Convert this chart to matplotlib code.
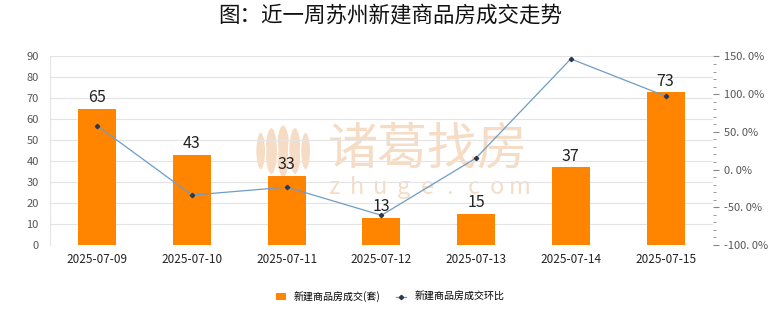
import matplotlib.pyplot as plt
import numpy as np
from matplotlib.patches import Ellipse
from matplotlib.ticker import MultipleLocator, FuncFormatter

plt.rcParams['font.family'] = ['Noto Sans CJK SC', 'DejaVu Sans']

dates = ["2025-07-09", "2025-07-10", "2025-07-11", "2025-07-12",
         "2025-07-13", "2025-07-14", "2025-07-15"]
deals = [65, 43, 33, 13, 15, 37, 73]
mom_pct = [58.0, -33.8, -23.3, -60.6, 15.4, 146.7, 97.3]

BAR = "#FF8400"
LINE = "#6F9CC6"
WM = "#F6DCC4"

fig = plt.figure(figsize=(7.8, 3.28), dpi=100)

# watermark sits behind the axes
fig.text(0.548, 0.543, "诸葛找房", ha="center", va="center", fontsize=36,
         color=WM, fontweight="light", zorder=0)
for i, ch in enumerate("zhuge.com"):
    fig.text(0.428 + i * 0.0298, 0.427, ch, ha="center", va="center",
             fontsize=17, color=WM, fontweight="light", zorder=0)
logo = fig.add_axes([0.327, 0.457, 0.072, 0.165], zorder=0)
logo.set_xlim(-1, 1)
logo.set_ylim(0, 2)
logo.axis("off")
for dx, w, h in [(0, 0.5, 1.95), (-0.42, 0.45, 1.75), (0.42, 0.45, 1.75),
                 (-0.8, 0.36, 1.4), (0.8, 0.36, 1.4)]:
    logo.add_patch(Ellipse((dx, 1.0), w, h, facecolor=WM, edgecolor="white", lw=1.0))

ax = fig.add_axes([0.064, 0.253, 0.85, 0.575], zorder=1)
ax.patch.set_visible(False)
ax2 = ax.twinx()

x = np.arange(len(dates))
ax.bar(x, deals, width=0.4, color=BAR, zorder=2, label="新建商品房成交(套)")
for xi, v in zip(x, deals):
    ax.text(xi, v + 1.2, str(v), ha="center", va="bottom", fontsize=11.5, color="#222222")

ax2.plot(x, mom_pct, color=LINE, lw=0.9, marker="D", markersize=2.2,
         markerfacecolor="#2b3a4a", markeredgecolor="#2b3a4a", zorder=3,
         label="新建商品房成交环比")

ax.set_xlim(-0.5, len(dates) - 0.5)
ax.set_ylim(0, 90)
ax.yaxis.set_major_locator(MultipleLocator(10))
ax.grid(axis="y", color="#e4e4e4", lw=0.8, zorder=0)
ax.set_axisbelow(True)
ax.set_xticks(x)
ax.set_xticklabels(dates, fontsize=8.5, color="#222222")
ax.tick_params(axis="x", length=0, pad=6)
ax.tick_params(axis="y", length=0, labelsize=8, labelcolor="#555555", pad=8)

ax2.set_ylim(-100, 150)
ax2.yaxis.set_major_locator(MultipleLocator(50))
ax2.yaxis.set_minor_locator(MultipleLocator(10))
ax2.yaxis.set_major_formatter(FuncFormatter(lambda v, _: f"{v:.1f}%".replace(".", ". ")))
ax2.tick_params(axis="y", which="major", length=4, color="#888888",
                labelsize=8, labelcolor="#555555", pad=4)
ax2.tick_params(axis="y", which="minor", length=2.5, color="#888888")

for a in (ax, ax2):
    for side in ("top", "right", "bottom"):
        a.spines[side].set_visible(False)
    a.spines["left"].set_color("#e4e4e4")
ax2.spines["left"].set_visible(False)

fig.suptitle("图：近一周苏州新建商品房成交走势", y=0.985, fontsize=15.5,
             fontweight="medium", color="#111111")

h1, l1 = ax.get_legend_handles_labels()
h2, l2 = ax2.get_legend_handles_labels()
fig.legend(h1 + h2, l1 + l2, loc="center", bbox_to_anchor=(0.5, 0.095), ncol=2,
           frameon=False, fontsize=7.2, handlelength=1.0, handleheight=0.6,
           columnspacing=1.6, handletextpad=0.8)

fig.savefig("out.png", dpi=100)
